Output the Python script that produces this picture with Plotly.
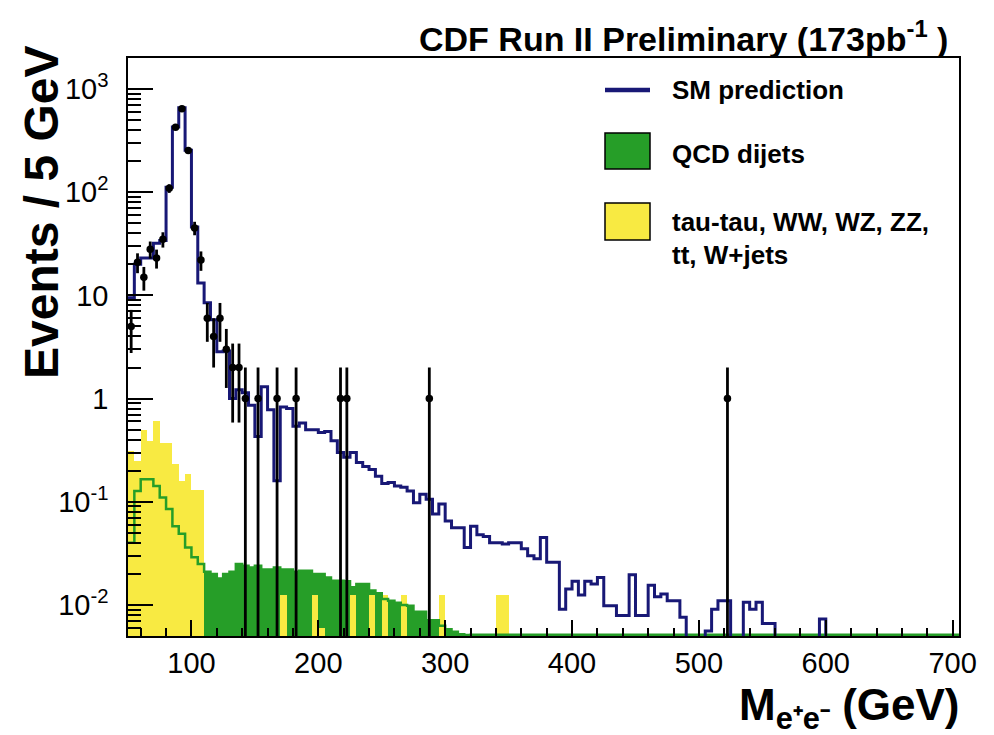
import numpy as np
import plotly.graph_objects as go

# ---- binning: 5 GeV bins, lower edges from 50 GeV ----
bin_width = 5.0
bin_lo = 50.0 + bin_width * np.arange(131)

# SM prediction (events / 5 GeV), one value per bin; 0 = empty bin
sm_prediction = [
    9.5, 20, 23, 23, 32, 34, 112, 430, 660, 255,
    46, 13.2, 8.5, 5.8, 2.85, 2.9, 1.0, 1.22, 1.14, 0.86,
    0.43, 1.3, 0.78, 0.16, 0.83, 0.80, 0.54, 0.58, 0.50, 0.50,
    0.47, 0.48, 0.39, 0.30, 0.27, 0.30, 0.24, 0.22, 0.205, 0.177,
    0.15, 0.154, 0.142, 0.138, 0.127, 0.098, 0.118, 0.106, 0.076, 0.095,
    0.065, 0.056, 0.056, 0.036, 0.058, 0.048, 0.046, 0.040, 0.040, 0.039,
    0.040, 0.040, 0.035, 0.030, 0.028, 0.045, 0.026, 0.026, 0.0091, 0.0143,
    0.017, 0.0125, 0.017, 0.016, 0.0185, 0.0098, 0.0098, 0.0079, 0.0079, 0.0196,
    0.0079, 0.0079, 0.0155, 0.012, 0.0128, 0.011, 0.011, 0.0076, 0, 0,
    0, 0.0056, 0.0091, 0.011, 0.011, 0, 0, 0.0106, 0.0091, 0.0106,
    0.0066, 0.0066, 0, 0, 0, 0, 0, 0, 0, 0.0073,
    0, 0, 0, 0, 0, 0, 0, 0, 0, 0,
    0, 0, 0, 0, 0, 0, 0, 0, 0, 0,
    0,
]

# QCD dijet background
qcd_dijets = [
    0.040, 0.127, 0.165, 0.165, 0.142, 0.110, 0.085, 0.058, 0.049, 0.036,
    0.029, 0.025, 0.021, 0.020, 0.018, 0.020, 0.021, 0.025, 0.024, 0.023,
    0.024, 0.022, 0.022, 0.023, 0.022, 0.022, 0.021, 0.0214, 0.0214, 0.020,
    0.020, 0.0185, 0.0172, 0.0172, 0.017, 0.0148, 0.016, 0.016, 0.0138, 0.0130,
    0.0114, 0.0110, 0.0105, 0.0100, 0.0098, 0.0086, 0.0086, 0.0071, 0.0071, 0.0063,
    0.0058, 0.0055, 0.0052, 0.0051,
] + [0.00515] * 77

# tau-tau, WW, WZ, ZZ, ttbar, W+jets
ew_other = [0.0] * 131
ew_low = [0.31, 0.25, 0.50, 0.39, 0.60, 0.37, 0.37, 0.23, 0.16, 0.185, 0.13, 0.13]
ew_other[:12] = ew_low
ew_tail_bins = [170, 195, 200, 225, 240, 250, 265, 295, 340, 345]
ew_tail_vals = [0.0125, 0.0125, 0.006, 0.0125, 0.0125, 0.0125, 0.0125, 0.0125, 0.0125, 0.0125]
for lo, v in zip(ew_tail_bins, ew_tail_vals):
    ew_other[int((lo - 50) / bin_width)] = v

# observed events: lower bin edge and count
data_bin_lo = [50, 55, 60, 65, 70, 75, 80, 85, 90, 95, 100, 105, 110, 115, 120, 125,
               130, 135, 140, 150, 165, 180, 215, 220, 285, 520]
data_counts = [5, 21, 15, 28, 23, 35, 109, 427, 643, 254, 45, 22, 6, 4, 6, 3,
               2, 2, 1, 1, 1, 1, 1, 1, 1, 1]

y_tickvals = [0.01, 0.1, 1, 10, 100, 1000]
y_ticktext = ["10<sup>-2</sup>", "10<sup>-1</sup>", "1", "10", "10<sup>2</sup>", "10<sup>3</sup>"]

# ---- styling ----
FONT = "Liberation Sans, Arial, Helvetica, sans-serif"
BLUE = "rgb(24,24,118)"
GREEN = "rgb(38,158,40)"
YELLOW = "rgb(248,234,66)"

W, H = 994, 735
L, R, T, B = 128, 35, 58, 99
PW, PH = W - L - R, H - T - B


def px(x):
    return (x - L) / PW


def py(y):
    return (H - B - y) / PH


FLOOR = 1e-4  # empty bins drop below the visible range
edges = np.append(bin_lo, bin_lo[-1] + bin_width)
centers = bin_lo + bin_width / 2


def step_y(vals):
    v = [x if x > 0 else FLOOR for x in vals]
    return v + [v[-1]]


fig = go.Figure()

fig.add_trace(go.Bar(
    x=centers, y=[v if v > 0 else None for v in qcd_dijets], width=bin_width,
    marker=dict(color=GREEN, line=dict(width=0)), showlegend=False,
))
fig.add_trace(go.Bar(
    x=centers, y=[v if v > 0 else None for v in ew_other], width=bin_width,
    marker=dict(color=YELLOW, line=dict(width=0)), showlegend=False,
))
fig.add_trace(go.Scatter(
    x=edges, y=step_y(qcd_dijets), mode="lines", line=dict(color=GREEN, width=2.5, shape="hv"),
    showlegend=False,
))
fig.add_trace(go.Scatter(
    x=edges, y=step_y(sm_prediction), mode="lines", line=dict(color=BLUE, width=3, shape="hv"),
    showlegend=False,
))

n = np.array(data_counts, dtype=float)
err_up = np.sqrt(n)
err_dn = np.minimum(np.sqrt(n), n - FLOOR)
fig.add_trace(go.Scatter(
    x=np.array(data_bin_lo) + bin_width / 2, y=n, mode="markers",
    marker=dict(color="black", size=7.5),
    error_y=dict(type="data", symmetric=False, array=err_up, arrayminus=err_dn,
                 color="black", thickness=2.8, width=0),
    showlegend=False,
))

# legend drawn as boxes and labels inside the frame
lx0, lx1 = px(605), px(650)
shapes = [
    dict(type="line", xref="paper", yref="paper", x0=lx0, x1=lx1, y0=py(90), y1=py(90),
         line=dict(color=BLUE, width=4.5)),
    dict(type="rect", xref="paper", yref="paper", x0=lx0, x1=lx1, y0=py(169), y1=py(133),
         fillcolor=GREEN, line=dict(color="black", width=1.5)),
    dict(type="rect", xref="paper", yref="paper", x0=lx0, x1=lx1, y0=py(240), y1=py(203),
         fillcolor=YELLOW, line=dict(color="black", width=1.5)),
]

leg_font = dict(family=FONT, size=26, color="black", weight="bold")
annotations = [
    dict(text=t, x=px(670), y=py(yy), xref="paper", yref="paper", xanchor="left",
         yanchor="middle", showarrow=False, font=leg_font)
    for t, yy in [("SM prediction", 90), ("QCD dijets", 154),
                  ("tau-tau, WW, WZ, ZZ,", 222), ("tt, W+jets", 255)]
]
annotations += [
    dict(text="CDF Run II Preliminary (173pb<sup>-1</sup> )", x=px(950), y=py(36),
         xref="paper", yref="paper", xanchor="right", yanchor="middle", showarrow=False,
         font=dict(family=FONT, size=34, color="black", weight="bold")),
    dict(text="Events / 5 GeV", x=px(42), y=py(212), xref="paper", yref="paper",
         xanchor="center", yanchor="middle", textangle=-90, showarrow=False,
         font=dict(family=FONT, size=48, color="black", weight="bold")),
    dict(text="M<sub>e⁺e⁻</sub> (GeV)", x=px(962), y=py(708), xref="paper", yref="paper",
         xanchor="right", yanchor="middle", showarrow=False,
         font=dict(family=FONT, size=44, color="black", weight="bold")),
]

y_minor = [m * 10.0 ** d for d in range(-3, 4) for m in range(2, 10)]
y_minor = [v for v in y_minor if 0.005 <= v <= 2000]

fig.update_layout(
    width=W, height=H, template="none",
    margin=dict(l=L, r=R, t=T, b=B, pad=0),
    paper_bgcolor="white", plot_bgcolor="white",
    barmode="overlay", bargap=0, showlegend=False,
    font=dict(family=FONT, color="black"),
    shapes=shapes, annotations=annotations,
    xaxis=dict(
        range=[50, 705], tick0=0, dtick=100, ticks="inside", ticklen=16, tickwidth=1.5,
        tickcolor="black", showline=True, linecolor="black", linewidth=1.5, mirror=True,
        showgrid=False, zeroline=False, automargin=False,
        tickfont=dict(family=FONT, size=29, color="black"), ticklabelstandoff=0,
        minor=dict(dtick=20, tick0=0, ticks="inside", ticklen=8, tickwidth=1.5,
                   tickcolor="black", showgrid=False),
    ),
    yaxis=dict(
        type="log", range=[np.log10(0.005), np.log10(2000)],
        tickmode="array", tickvals=y_tickvals, ticktext=y_ticktext,
        ticks="inside", ticklen=25, tickwidth=1.5, tickcolor="black",
        showline=True, linecolor="black", linewidth=1.5, mirror=True,
        showgrid=False, zeroline=False, automargin=False,
        tickfont=dict(family=FONT, size=29, color="black"), ticklabelstandoff=12,
        minor=dict(tickmode="array", tickvals=y_minor, ticks="inside", ticklen=13,
                   tickwidth=1.5, tickcolor="black", showgrid=False),
    ),
)

fig.write_html("out.html")
